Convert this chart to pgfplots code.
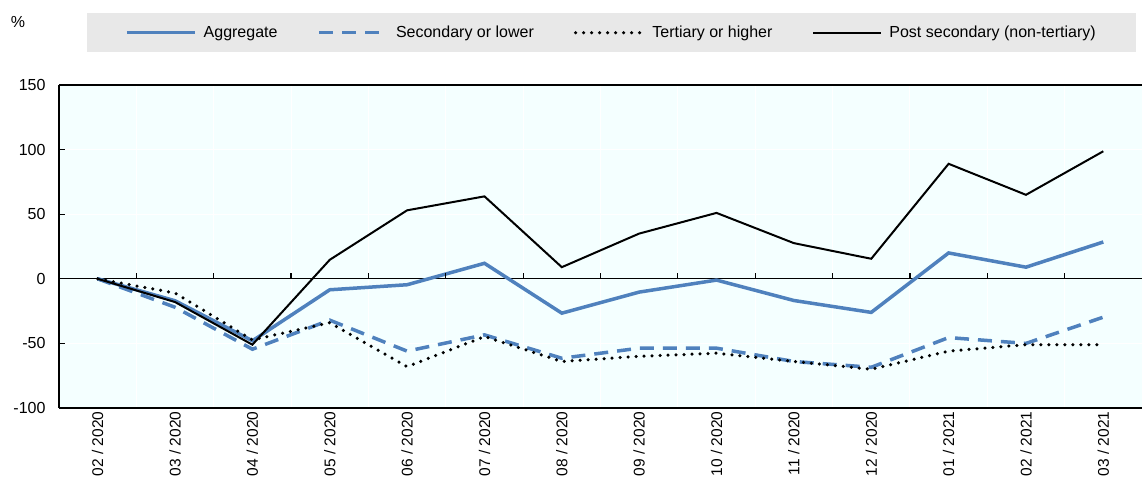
\documentclass[border=0pt]{standalone}
\usepackage{pgfplots}
\pgfplotsset{compat=1.18}
\usepackage{fontspec}
\setmainfont{Liberation Sans}
\definecolor{oblue}{RGB}{79,129,189}
\definecolor{bgc}{RGB}{244,255,255}
\definecolor{leggray}{RGB}{232,232,232}
\begin{document}
\begin{tikzpicture}[x=1pt,y=1pt]
\path[use as bounding box] (0,0) rectangle (1142,481);
\node[anchor=center,font=\fontsize{16}{18}\selectfont] at (18,459) {\%};
\begin{axis}[
  at={(59pt,73pt)}, anchor=south west,
  scale only axis, width=1083pt, height=323pt,
  xmin=-0.5, xmax=13.5, ymin=-100, ymax=150,
  clip=false,
  axis background/.style={fill=bgc},
  axis lines*=left,
  axis line style={line width=1.5pt},
  ytick={-100,-50,0,50,100,150},
  xtick={0,...,13},
  xticklabels={02 / 2020,03 / 2020,04 / 2020,05 / 2020,06 / 2020,07 / 2020,08 / 2020,09 / 2020,10 / 2020,11 / 2020,12 / 2020,01 / 2021,02 / 2021,03 / 2021},
  minor xtick={0.5,1.5,...,12.5},
  xminorgrids, ymajorgrids,
  grid style={white, line width=1pt},
  minor grid style={white, line width=1pt},
  major x tick style={draw=none}, minor x tick style={draw=none},
  y tick style={black, line width=1pt},
  tick align=inside, major tick length=6pt,
  xticklabel style={rotate=90, anchor=east, font=\fontsize{15.5}{17}\selectfont},
  yticklabel style={font=\fontsize{16}{18}\selectfont, xshift=-10pt},
  /pgf/number format/assume math mode=true,
  legend columns=4,
  legend cell align=left,
  legend image code/.code={\draw[#1] (0pt,0pt) -- (68pt,0pt);},
  legend style={at={(axis description cs:0.02585,1.2229)}, anchor=north west,
    fill=leggray, draw=none, inner xsep=38pt, inner ysep=11pt,
    font=\fontsize{16}{18}\selectfont,
    /tikz/every even column/.append style={column sep=38pt},
    /tikz/every odd column/.append style={column sep=5pt}},
]
\draw[line width=1.3pt] (axis cs:-0.5,0) -- (axis cs:13.5,0);
\coordinate (t0) at (axis cs:0.5,0);
\coordinate (t1) at (axis cs:1.5,0);
\coordinate (t2) at (axis cs:2.5,0);
\coordinate (t3) at (axis cs:3.5,0);
\coordinate (t4) at (axis cs:4.5,0);
\coordinate (t5) at (axis cs:5.5,0);
\coordinate (t6) at (axis cs:6.5,0);
\coordinate (t7) at (axis cs:7.5,0);
\coordinate (t8) at (axis cs:8.5,0);
\coordinate (t9) at (axis cs:9.5,0);
\coordinate (t10) at (axis cs:10.5,0);
\coordinate (t11) at (axis cs:11.5,0);
\coordinate (t12) at (axis cs:12.5,0);
\coordinate (tl) at (rel axis cs:0,1);
\coordinate (tr) at (rel axis cs:1,1);
\addplot[oblue, line width=3.5pt] coordinates {(0,0)(1,-17)(2,-48)(3,-8.5)(4,-4.6)(5,12)(6,-26.6)(7,-10.3)(8,-1)(9,-16.8)(10,-26)(11,20)(12,9)(13,28.5)};
\addlegendentry{Aggregate}
\addplot[oblue, line width=3.5pt, dash pattern=on 14pt off 9pt] coordinates {(0,0)(1,-22)(2,-54.5)(3,-32)(4,-56)(5,-43.4)(6,-61.5)(7,-53.7)(8,-53.7)(9,-64)(10,-68.5)(11,-45.5)(12,-50)(13,-29.7)};
\addlegendentry{Secondary or lower}
\addplot[black, line width=3.5pt, line cap=round, dash pattern=on 0pt off 8pt] coordinates {(0,0)(1,-11)(2,-47.3)(3,-34)(4,-68)(5,-44.7)(6,-64)(7,-60)(8,-57.6)(9,-64)(10,-70)(11,-56)(12,-51)(13,-51)};
\addlegendentry{Tertiary or higher}
\addplot[black, line width=2pt] coordinates {(0,0)(1,-18)(2,-51)(3,14.7)(4,53)(5,63.8)(6,9)(7,35)(8,51)(9,27.6)(10,15.5)(11,89)(12,65)(13,98.7)};
\addlegendentry{Post secondary (non-tertiary)}
\end{axis}
\foreach \i in {0,...,12} {\draw[line width=1.2pt] (t\i) -- ++(0,6);}
\draw[line width=1.5pt] (tl) -- (tr);
\end{tikzpicture}
\end{document}
